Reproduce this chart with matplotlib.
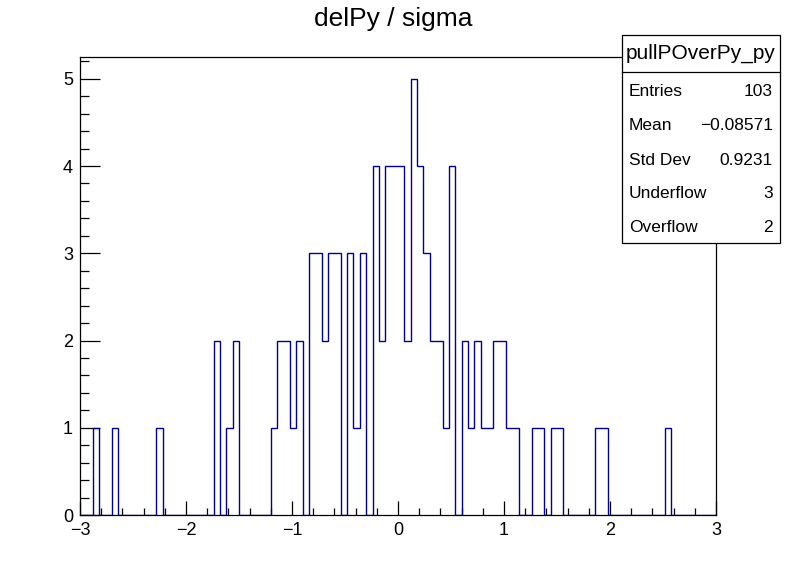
#!/usr/bin/env python3
"""ROOT-style histogram: delPy / sigma"""
import numpy as np
import matplotlib
matplotlib.use("Agg")
import matplotlib.pyplot as plt
from matplotlib.patches import Rectangle
from matplotlib.ticker import MultipleLocator

plt.rcParams['font.family'] = ['Liberation Sans', 'DejaVu Sans']

# histogram: 100 bins from -3 to 3
x_min, x_max, n_bins = -3.0, 3.0, 100
counts = [
    0, 0, 1, 0, 0, 1, 0, 0, 0, 0,
    0, 0, 1, 0, 0, 0, 0, 0, 0, 0,
    0, 2, 0, 1, 2, 0, 0, 0, 0, 0,
    1, 2, 2, 1, 2, 0, 3, 3, 2, 3,
    3, 0, 3, 1, 3, 0, 4, 2, 4, 4,
    4, 2, 5, 4, 3, 2, 2, 1, 4, 0,
    2, 1, 2, 1, 1, 2, 2, 1, 1, 0,
    0, 1, 1, 0, 1, 1, 0, 0, 0, 0,
    0, 1, 1, 0, 0, 0, 0, 0, 0, 0,
    0, 0, 1, 0, 0, 0, 0, 0, 0, 0,
]
title = "delPy / sigma"
hist_name = "pullPOverPy_py"
stat_labels = ["Entries", "Mean", "Std Dev", "Underflow", "Overflow"]
stat_values = ["103", "\u22120.08571", "0.9231", "3", "2"]

W, H = 796, 572
fig = plt.figure(figsize=(W / 100, H / 100), dpi=100)

# axes frame in pixels: left 80, right 716, top 57, bottom 515
ax = fig.add_axes([80 / W, (H - 515) / H, 636 / W, (515 - 57) / H])

edges = np.linspace(x_min, x_max, n_bins + 1)
ax.stairs(counts, edges, color='#000099', linewidth=1.0, baseline=0,
          zorder=2)

ax.set_xlim(x_min, x_max)
ax.set_ylim(0, max(counts) * 1.05)

for s in ax.spines.values():
    s.set_linewidth(0.9)
    s.set_zorder(3)

ax.xaxis.set_major_locator(MultipleLocator(1))
ax.xaxis.set_minor_locator(MultipleLocator(0.2))
ax.yaxis.set_major_locator(MultipleLocator(1))
ax.yaxis.set_minor_locator(MultipleLocator(0.2))

ax.tick_params(axis='x', which='both', direction='in', top=False,
               labelsize=13, pad=5, width=0.9)
ax.tick_params(axis='x', which='major', length=10)
ax.tick_params(axis='x', which='minor', length=5)
ax.tick_params(axis='y', which='both', direction='in', right=False,
               labelsize=13, pad=5, width=0.9)
ax.tick_params(axis='y', which='major', length=14.4)
ax.tick_params(axis='y', which='minor', length=6.8)

fig.text(393.5 / W, 1 - 19 / H, title, ha='center', va='center', fontsize=19)

# stat box
bx0, bx1, by0, by1, bsep = 622, 780, 35, 243, 72
fig.add_artist(Rectangle((bx0 / W, 1 - by1 / H), (bx1 - bx0) / W,
                         (by1 - by0) / H, transform=fig.transFigure,
                         facecolor='white', edgecolor='black', lw=0.9,
                         zorder=5))
fig.add_artist(plt.Line2D([bx0 / W, bx1 / W], [1 - bsep / H, 1 - bsep / H],
                          transform=fig.transFigure, color='black', lw=0.9,
                          zorder=6))
fig.text((bx0 + bx1) / 2 / W, 1 - (by0 + bsep) / 2 / H, hist_name,
         ha='center', va='center', fontsize=15, zorder=7)
row_y = [91, 126, 160, 194, 228]
for lab, val, y in zip(stat_labels, stat_values, row_y):
    fig.text(629 / W, 1 - y / H, lab, ha='left', va='center', fontsize=12.5,
             zorder=7)
    fig.text(773 / W, 1 - y / H, val, ha='right', va='center', fontsize=12.5,
             zorder=7)

fig.savefig("out.png", dpi=100)
